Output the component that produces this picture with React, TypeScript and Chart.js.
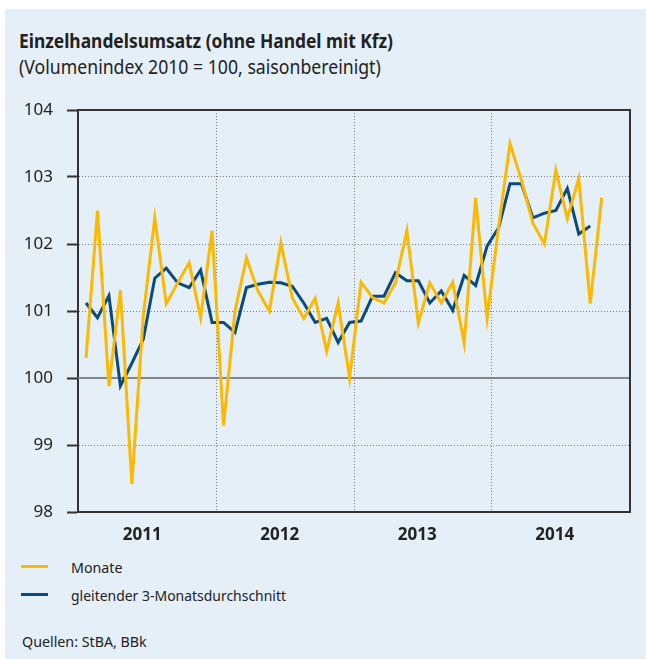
import React, { useEffect, useRef } from 'react';
import { Chart, registerables } from 'chart.js';

Chart.register(...registerables);

// Monthly categories: Jan 2011 .. Oct 2014
const months = [
  '2011-01', '2011-02', '2011-03', '2011-04', '2011-05', '2011-06', '2011-07', '2011-08', '2011-09', '2011-10', '2011-11', '2011-12',
  '2012-01', '2012-02', '2012-03', '2012-04', '2012-05', '2012-06', '2012-07', '2012-08', '2012-09', '2012-10', '2012-11', '2012-12',
  '2013-01', '2013-02', '2013-03', '2013-04', '2013-05', '2013-06', '2013-07', '2013-08', '2013-09', '2013-10', '2013-11', '2013-12',
  '2014-01', '2014-02', '2014-03', '2014-04', '2014-05', '2014-06', '2014-07', '2014-08', '2014-09', '2014-10',
];

const years = ['2011', '2012', '2013', '2014'];

// Monate (monthly values)
const monthly = [
  100.3, 102.5, 99.88, 101.31, 98.42, 100.93, 102.39, 101.11, 101.42, 101.72, 100.9, 102.2,
  99.29, 101.0, 101.79, 101.3, 101.0, 102.02, 101.2, 100.89, 101.19, 100.4, 101.12, 100.0,
  101.43, 101.2, 101.12, 101.42, 102.2, 100.82, 101.42, 101.12, 101.43, 100.52, 102.69, 100.89,
  102.25, 103.5, 102.95, 102.31, 102.0, 103.1, 102.38, 102.98, 101.11, 102.69,
];

// gleitender 3-Monatsdurchschnitt (Jan 2011 .. Sep 2014)
const movingAvg = [
  101.12, 100.9, 101.23, 99.88, 100.22, 100.58, 101.49, 101.64, 101.42, 101.35, 101.61, 100.83,
  100.83, 100.68, 101.35, 101.4, 101.43, 101.42, 101.37, 101.12, 100.83, 100.89, 100.53, 100.83,
  100.85, 101.22, 101.22, 101.57, 101.45, 101.45, 101.12, 101.3, 101.01, 101.53, 101.38, 101.97,
  102.24, 102.9, 102.9, 102.39, 102.46, 102.5, 102.83, 102.15, 102.27,
];

const yTicks = [98, 99, 100, 101, 102, 103, 104];

const YELLOW = '#fbb900';
const BLUE = '#0b4a7e';
const FONT = "'Noto Sans', sans-serif";

const framePlugin = {
  id: 'frame',
  beforeDatasetsDraw(chart: any) {
    const { ctx, chartArea, scales } = chart;
    const yy = scales.y.getPixelForValue(100);
    ctx.save();
    ctx.strokeStyle = '#858585';
    ctx.lineWidth = 2;
    ctx.beginPath();
    ctx.moveTo(chartArea.left, yy);
    ctx.lineTo(chartArea.right, yy);
    ctx.stroke();
    ctx.restore();
  },
  afterDatasetsDraw(chart: any) {
    const { ctx, chartArea } = chart;
    ctx.save();
    ctx.strokeStyle = '#333';
    ctx.lineWidth = 2;
    ctx.beginPath();
    ctx.moveTo(chartArea.left - 1, chartArea.top);
    ctx.lineTo(chartArea.right, chartArea.top);
    ctx.lineTo(chartArea.right, chartArea.bottom + 1);
    ctx.stroke();
    ctx.restore();
  },
};

export default function App() {
  const ref = useRef<HTMLCanvasElement>(null);

  useEffect(() => {
    if (!ref.current) return;
    const chart = new Chart(ref.current, {
      type: 'line',
      data: {
        datasets: [
          {
            label: 'Monate',
            data: monthly.map((v, i) => ({ x: i, y: v, m: months[i] })) as any,
            borderColor: YELLOW,
            borderWidth: 3,
            pointRadius: 0,
            tension: 0,
            borderJoinStyle: 'miter',
          },
          {
            label: 'gleitender 3-Monatsdurchschnitt',
            data: movingAvg.map((v, i) => ({ x: i, y: v, m: months[i] })) as any,
            borderColor: BLUE,
            borderWidth: 3,
            pointRadius: 0,
            tension: 0,
            borderJoinStyle: 'miter',
          },
        ],
      },
      options: {
        animation: false,
        responsive: false,
        maintainAspectRatio: false,
        devicePixelRatio: 1,
        layout: { padding: { left: 0, right: 16, top: 15, bottom: 0 } },
        plugins: { legend: { display: false }, tooltip: { enabled: false } },
        scales: {
          x: {
            type: 'linear',
            min: -0.7,
            max: 47.47,
            afterBuildTicks: (s: any) => {
              const t: any[] = [];
              years.forEach((_, k) => {
                t.push({ value: 12 * k + 4.9 });
                if (k < years.length - 1) t.push({ value: 12 * k + 11.4 });
              });
              s.ticks = t;
            },
            afterFit: (s: any) => {
              s.height = 43;
              s.paddingLeft = 0;
              s.paddingRight = 0;
            },
            grid: {
              drawTicks: false,
              lineWidth: 1,
              color: (c: any) => (c.index % 2 === 1 ? '#7a7a7a' : 'rgba(0,0,0,0)'),
            },
            border: { display: true, color: '#333', width: 2, dash: [1, 2] },
            ticks: {
              autoSkip: false,
              maxRotation: 0,
              padding: 13,
              color: '#222',
              font: { family: FONT, size: 17, weight: 'bold' },
              callback: (_v: any, i: number) => (i % 2 === 0 ? years[i / 2] : ''),
            },
          },
          y: {
            type: 'linear',
            min: 98,
            max: 104,
            afterBuildTicks: (s: any) => {
              s.ticks = yTicks.map((v) => ({ value: v }));
            },
            afterFit: (s: any) => {
              s.width = 78;
              s.paddingTop = 0;
              s.paddingBottom = 0;
            },
            grid: {
              drawTicks: true,
              tickLength: 11,
              tickColor: '#333',
              tickWidth: 2,
              lineWidth: 1,
              color: (c: any) => {
                const v = c.tick && c.tick.value;
                return v === 98 || v === 100 || v === 104 ? 'rgba(0,0,0,0)' : '#7a7a7a';
              },
            },
            border: { display: true, color: '#333', width: 2, dash: [1, 2] },
            ticks: {
              padding: 14,
              color: '#222',
              font: { family: FONT, size: 17 },
            },
          },
        },
      },
      plugins: [framePlugin],
    } as any);
    return () => chart.destroy();
  }, []);

  const text: React.CSSProperties = {
    position: 'absolute',
    fontFamily: FONT,
    color: '#222',
    whiteSpace: 'nowrap',
    transformOrigin: 'left center',
  };

  return (
    <div style={{ position: 'fixed', left: 0, top: 0, width: 646, height: 659, overflow: 'hidden', background: '#fff' }}>
      <div style={{ position: 'absolute', left: 5, top: 9, width: 641, height: 650, background: '#e5eff7' }} />
      <div style={{ ...text, left: 19, top: 29, fontSize: 19, lineHeight: '24px', fontWeight: 700, transform: 'scaleX(0.915)' }}>
        Einzelhandelsumsatz (ohne Handel mit Kfz)
      </div>
      <div style={{ ...text, left: 19, top: 55, fontSize: 19, lineHeight: '24px', transform: 'scaleX(0.93)' }}>
        (Volumenindex 2010 = 100, saisonbereinigt)
      </div>
      <canvas ref={ref} width={646} height={460} style={{ position: 'absolute', left: 0, top: 95, width: 646, height: 460 }} />
      <div style={{ position: 'absolute', left: 21, top: 565, width: 27, height: 3, background: YELLOW }} />
      <div style={{ ...text, left: 71, top: 557, fontSize: 15, lineHeight: '20px', transform: 'scaleX(0.95)' }}>Monate</div>
      <div style={{ position: 'absolute', left: 21, top: 593, width: 27, height: 3, background: BLUE }} />
      <div style={{ ...text, left: 71, top: 585, fontSize: 15, lineHeight: '20px', transform: 'scaleX(0.93)' }}>
        gleitender 3-Monatsdurchschnitt
      </div>
      <div style={{ ...text, left: 22, top: 631, fontSize: 15, lineHeight: '20px', transform: 'scaleX(0.95)' }}>
        Quellen: StBA, BBk
      </div>
    </div>
  );
}
